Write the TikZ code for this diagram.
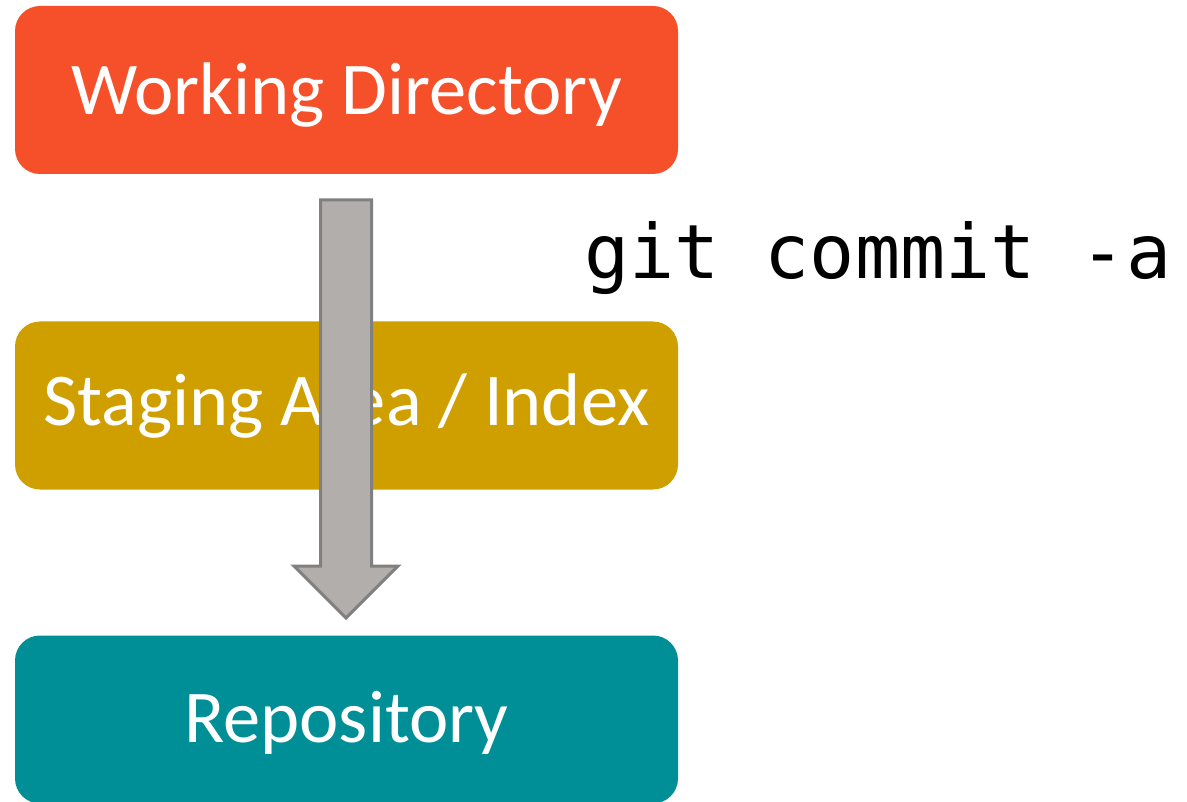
\documentclass[tikz,border=0pt]{standalone}
\usepackage{fontspec}
\setmainfont{Carlito}
\newfontfamily\codefont{DejaVu Sans Mono}
\definecolor{wdcol}{HTML}{F55029}
\definecolor{stcol}{HTML}{CF9F00}
\definecolor{repocol}{HTML}{008F96}
\definecolor{arrfill}{HTML}{B2AEAB}
\definecolor{arrline}{HTML}{808080}
\begin{document}
\begin{tikzpicture}[x=1pt,y=-1pt,
  stagebox/.style={fill=#1, rounded corners=25pt, minimum width=663pt, minimum height=168pt,
    inner sep=0pt, text=white, text depth=0pt, font=\fontsize{74.5}{80}\selectfont},
  bigarrow/.style={fill=arrfill, draw=arrline, line width=3pt, line join=miter}]
\useasboundingbox (0,0) rectangle (1187,802);
\node[stagebox=wdcol, text height=50pt] (wd) at (346.5,90) {Working Directory};
\node[stagebox=stcol, text height=40pt] (st) at (346.5,405.5) {Staging Area / Index};
\node[stagebox=repocol, text height=46pt] (repo) at (346.5,719.5) {Repository};
\draw[bigarrow] (320.5,200) -- (371.5,200) -- (371.5,566) -- (398,566) -- (346,618) -- (294,566) -- (320.5,566) -- cycle;
\node[anchor=base west, inner sep=0pt, font=\codefont\fontsize{75}{80}\selectfont] (cmd) at (584,279) {git commit -a};
\end{tikzpicture}
\end{document}
